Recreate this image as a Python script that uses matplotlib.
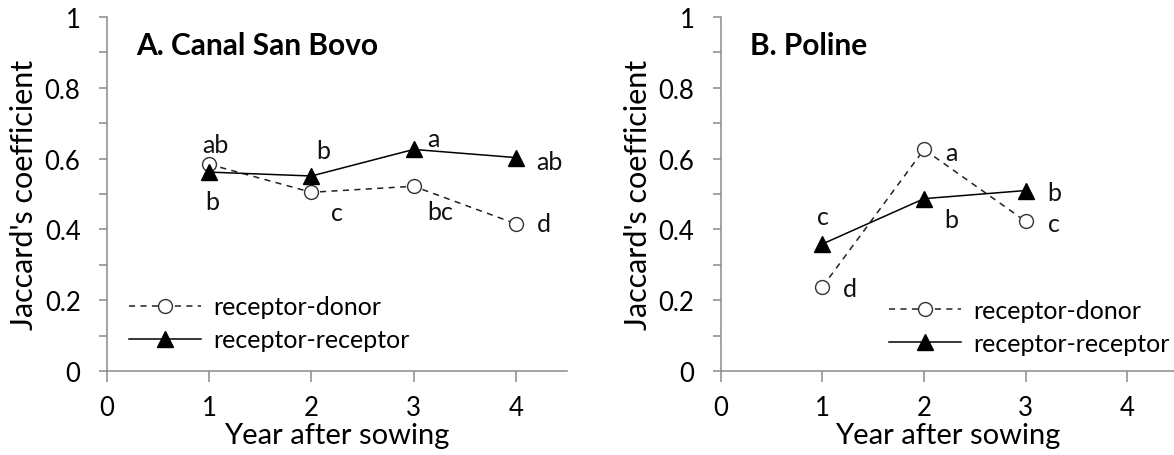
import matplotlib.pyplot as plt

plt.rcParams['font.family'] = ['Lato', 'DejaVu Sans']

# panel A: Canal San Bovo
years_a = [1, 2, 3, 4]
donor_a = [0.584, 0.505, 0.522, 0.416]
recep_a = [0.562, 0.551, 0.626, 0.603]
# letters: (x, y, text)
letters_a = [(1.06, 0.64, 'ab'), (1.03, 0.48, 'b'), (2.12, 0.624, 'b'), (2.25, 0.447, 'c'),
             (3.19, 0.657, 'a'), (3.26, 0.451, 'bc'), (4.33, 0.593, 'ab'), (4.27, 0.416, 'd')]

# panel B: Poline
years_b = [1, 2, 3]
donor_b = [0.238, 0.626, 0.423]
recep_b = [0.359, 0.487, 0.51]
letters_b = [(1.0, 0.437, 'c'), (1.27, 0.234, 'd'), (2.27, 0.617, 'a'), (2.27, 0.428, 'b'),
             (3.28, 0.503, 'b'), (3.28, 0.416, 'c')]

yticks = [0, 0.2, 0.4, 0.6, 0.8, 1]
ytick_labels = ['0', '0.2', '0.4', '0.6', '0.8', '1']
yminor = [0.1, 0.3, 0.5, 0.7, 0.9]
xticks = [0, 1, 2, 3, 4]

grey = '#8a8a8a'
fs = 18

fig = plt.figure(figsize=(11.74, 4.56), dpi=100)
axA = fig.add_axes([0.0911, 0.184, 0.3919, 0.7765])
axB = fig.add_axes([0.614, 0.184, 0.386, 0.7765])


def panel(ax, xs, donor, recep, letters, title, xmax, leg_anchor):
    ax.plot(xs, donor, color='#222222', lw=1.1, ls=(0, (4, 3.5)), marker='o', ms=10,
            mfc='white', mec='#333333', mew=1.0, label='receptor-donor', zorder=3)
    ax.plot(xs, recep, color='black', lw=1.1, marker='^', ms=11,
            mfc='black', mec='black', label='receptor-receptor', zorder=4)
    for x, y, t in letters:
        ax.text(x, y, t, fontsize=fs, ha='center', va='center', color='#111111')
    ax.text(0.29, 0.92, title, fontsize=21.5, fontweight='bold', ha='left', va='center')

    ax.set_xlim(0, xmax)
    ax.set_ylim(0, 1)
    ax.set_xticks(xticks)
    ax.set_xticklabels([str(t) for t in xticks])
    ax.set_yticks(yticks)
    ax.set_yticklabels(ytick_labels)
    ax.set_yticks(yminor, minor=True)
    for s in ['top', 'right']:
        ax.spines[s].set_visible(False)
    for s in ['left', 'bottom']:
        ax.spines[s].set_color(grey)
        ax.spines[s].set_linewidth(1.1)
    ax.tick_params(axis='y', which='both', direction='out', length=6, width=1.1,
                   color=grey, labelsize=18.5, pad=13)
    ax.tick_params(axis='x', direction='out', length=8, width=1.1,
                   color=grey, labelsize=18.5, pad=9)
    ax.set_xlabel('Year after sowing', fontsize=21, labelpad=2)
    ax.set_ylabel("Jaccard's coefficient", fontsize=22, labelpad=5)

    ax.legend(loc='center left', bbox_to_anchor=leg_anchor, frameon=False, fontsize=fs,
              handlelength=2.9, handletextpad=0.5, labelspacing=0.4, borderpad=0,
              borderaxespad=0)


panel(axA, years_a, donor_a, recep_a, letters_a, 'A. Canal San Bovo', 4.5, (0.047, 0.135))
panel(axB, years_b, donor_b, recep_b, letters_b, 'B. Poline', 4.46, (0.37, 0.125))

fig.savefig('out.png', dpi=100)
